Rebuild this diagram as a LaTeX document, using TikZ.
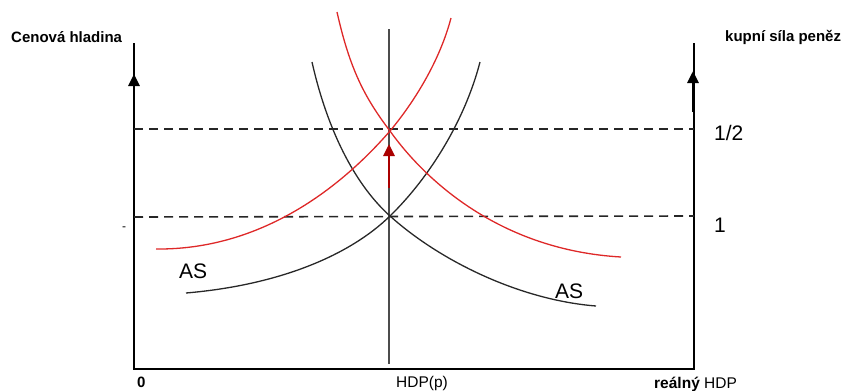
\documentclass[tikz,border=0pt]{standalone}
\usepackage{fontspec}
\setmainfont{Liberation Sans}
\usetikzlibrary{arrows.meta}
\definecolor{redline}{RGB}{222,40,40}
\definecolor{arrowred}{RGB}{170,0,0}
\definecolor{blackline}{RGB}{40,40,40}
\tikzset{
  axisline/.style={line width=1.8pt, black},
  guide/.style={line width=1.6pt, black!85, dash pattern=on 9pt off 6pt},
  shiftarrow/.style={line width=2.8pt, -{Triangle[length=12pt,width=11pt]}},
  curveblk/.style={line width=1.3pt, draw=blackline},
  curvered/.style={line width=1.3pt, draw=redline},
  lbl/.style={font=\fontsize{15}{17}\selectfont\bfseries, inner sep=0pt, anchor=base west},
  lblreg/.style={font=\fontsize{15.5}{17}\selectfont, inner sep=0pt, anchor=base west},
  biglbl/.style={font=\fontsize{21}{24}\selectfont, inner sep=0pt, anchor=base west},
}
\begin{document}
\begin{tikzpicture}[x=1pt,y=-1pt]
\useasboundingbox (0,0) rectangle (844,391);
% axes
\coordinate (lt) at (134,43);
\coordinate (o) at (134,369);
\coordinate (rb) at (694,369);
\coordinate (rt) at (694,43);
\draw[axisline] (lt) -- (o) -- (rb) -- (rt);
% dashed levels
\coordinate (d1l) at (134,129); \coordinate (d1r) at (694,129);
\coordinate (d2l) at (134,217); \coordinate (d2r) at (694,216);
\draw[guide] (d1l) -- (d1r);
\draw[guide] (d2l) -- (d2r);
% vertical HDP(p)
\coordinate (vt) at (389,29); \coordinate (vb) at (389,364);
\draw[line width=1.5pt, black!70] (vt) -- (vb);
% equilibrium points
\coordinate (e1) at (390,216);
\coordinate (e2) at (390,131);
% curves
\draw[curveblk] (186,293) .. controls (280,285) and (350,255) .. (e1)
  .. controls (430,177) and (465,120) .. (480,62);
\draw[curveblk] (312,62) .. controls (325,120) and (350,180) .. (e1)
  .. controls (440,261) and (520,300) .. (596,306);
\draw[curvered] (156,249) .. controls (250,250) and (330,200) .. (e2)
  .. controls (415,101) and (440,60) .. (451,18);
\draw[curvered] (337,12) .. controls (350,70) and (365,98) .. (e2)
  .. controls (425,180) and (500,250) .. (621,257);
% arrows
\coordinate (la0) at (134,114); \coordinate (la1) at (134,74);
\draw[shiftarrow, black] (la0) -- (la1);
\coordinate (ra0) at (693,112); \coordinate (ra1) at (693,71);
\draw[shiftarrow, black] (ra0) -- (ra1);
\coordinate (ma0) at (389,188); \coordinate (ma1) at (389,144);
\draw[shiftarrow, arrowred] (ma0) -- (ma1);
% labels
\node[lbl] (ylab) at (11,42) {Cenová hladina};
\node[lbl] (y2lab) at (725,41) {kupní síla peněz};
\node[biglbl] (half) at (714,140) {1/2};
\node[biglbl] (one) at (714,232) {1};
\node[biglbl] (as1) at (179,278) {AS};
\node[biglbl] (as2) at (555,298) {AS};
\node[lbl] (zero) at (137,387) {0};
\node[lblreg] (hdpp) at (396,387) {HDP(p)};
\node[lblreg] (rhdp) at (654,388) {\bfseries reálný \mdseries HDP};
\node[font=\fontsize{12}{14}\selectfont, inner sep=0pt] (tick) at (124,229) {-};
\end{tikzpicture}
\end{document}
